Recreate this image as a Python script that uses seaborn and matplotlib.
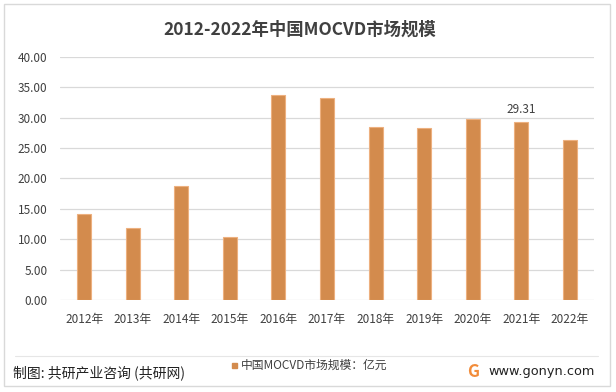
#!/usr/bin/env python
# -*- coding: utf-8 -*-

import pandas as pd
import seaborn as sns
import matplotlib.pyplot as plt
from matplotlib.patches import Rectangle
from matplotlib.lines import Line2D

years = ["2012年", "2013年", "2014年", "2015年", "2016年", "2017年",
         "2018年", "2019年", "2020年", "2021年", "2022年"]
market_size = [14.1, 11.9, 18.7, 10.45, 33.7, 33.25, 28.45, 28.3, 29.8, 29.31, 26.3]
y_ticks = [0, 5, 10, 15, 20, 25, 30, 35, 40]
labelled_year = "2021年"

title = "2012-2022年中国MOCVD市场规模"
series_name = "中国MOCVD市场规模：亿元"
source_text = "制图: 共研产业咨询 (共研网)"
site_text = "www.gonyn.com"

bar_color = "#D38B4D"
text_color = "#404040"

df = pd.DataFrame({"year": years, "size": market_size})

sns.set_theme(style="white")
plt.rcParams["font.family"] = ["Noto Sans CJK SC", "DejaVu Sans"]

W, H = 616, 392
fig = plt.figure(figsize=(W / 100, H / 100), dpi=100)
ax = fig.add_axes([60 / W, 1 - 300 / H, 534 / W, 243 / H])

sns.barplot(data=df, x="year", y="size", color=bar_color, width=0.29,
            saturation=1, edgecolor="#EDB07F", linewidth=0.8, ax=ax, zorder=3)

ax.set_ylim(0, 40)
ax.set_yticks(y_ticks)
ax.set_yticklabels([f"{v:.2f}" for v in y_ticks], fontsize=8.5, color=text_color)
ax.set_xticklabels(years, fontsize=8.5, color=text_color)
ax.set_xlabel("")
ax.set_ylabel("")
ax.grid(axis="y", color="#D9D9D9", linewidth=0.9, zorder=0)
ax.tick_params(axis="both", length=0)
ax.tick_params(axis="x", pad=9)
ax.tick_params(axis="y", pad=9)
for spine in ax.spines.values():
    spine.set_visible(False)

idx = years.index(labelled_year)
ax.text(idx, market_size[idx] + 0.9, f"{market_size[idx]:.2f}", ha="center",
        va="bottom", fontsize=8.5, color=text_color)

fig.text(300 / W, 1 - 30 / H, title, ha="center", va="center",
         fontsize=12.5, fontweight="bold", color=text_color)

# legend
fig.patches.append(Rectangle((232 / W, 1 - 368 / H), 5 / W, 5 / H,
                             transform=fig.transFigure, color=bar_color))
fig.text(241 / W, 1 - 365 / H, series_name, ha="left", va="center",
         fontsize=8.5, color=text_color)

# footer
fig.lines.append(Line2D([15 / W, 598 / W], [1 - 356 / H, 1 - 356 / H],
                        transform=fig.transFigure, color="#E6E6E6", linewidth=0.8))
fig.text(13 / W, 1 - 373 / H, source_text, ha="left", va="center",
         fontsize=10, color="#222222")
fig.text(473 / W, 1 - 372 / H, "G", ha="center", va="center",
         fontsize=12, fontweight="bold", color="#F28C3A")
fig.text(488 / W, 1 - 372 / H, site_text, ha="left", va="center",
         fontsize=9.3, color="#222222", family="DejaVu Sans")

fig.patches.append(Rectangle((4 / W, 1 - 386 / H), 606 / W, 382 / H,
                             transform=fig.transFigure, fill=False,
                             edgecolor="#D9D9D9", linewidth=1))

fig.savefig("out.png", dpi=100)
